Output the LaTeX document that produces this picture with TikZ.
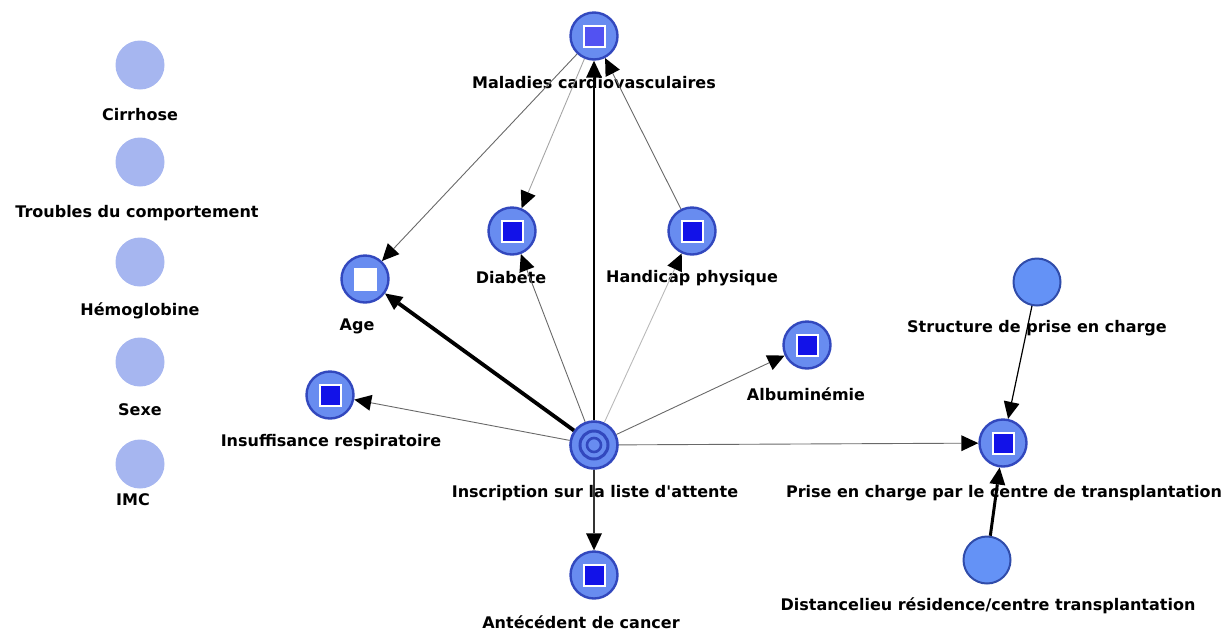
\documentclass[tikz,border=0pt]{standalone}
\usepackage{fontspec}
\setmainfont{DejaVu Sans}
\usetikzlibrary{arrows.meta}
\definecolor{ringfill}{RGB}{104,140,240}
\definecolor{ringdraw}{RGB}{50,72,190}
\definecolor{sqblue}{RGB}{18,18,232}
\definecolor{sqlight}{RGB}{82,82,242}
\definecolor{ghost}{RGB}{166,182,240}
\definecolor{plainfill}{RGB}{100,146,246}
\definecolor{plaindraw}{RGB}{48,76,170}
\definecolor{edgegray}{RGB}{105,105,105}
\definecolor{edgelight}{RGB}{185,185,185}
\tikzset{
  base/.style={circle, minimum size=47pt, inner sep=0pt},
  obs/.style={base, fill=ringfill, draw=ringdraw, line width=2.4pt,
    path picture={
      \fill[white] ([shift={(-11.5pt,-11.5pt)}]path picture bounding box.center) rectangle ++(23pt,23pt);
      \fill[#1] ([shift={(-9.5pt,-9.5pt)}]path picture bounding box.center) rectangle ++(19pt,19pt);
    }},
  obs/.default=sqblue,
  ghostnode/.style={base, minimum size=49pt, fill=ghost},
  plain/.style={base, fill=plainfill, draw=plaindraw, line width=2pt},
  target/.style={base, fill=ringfill, draw=ringdraw, line width=2.6pt,
    path picture={
      \draw[ringdraw, line width=3pt] (path picture bounding box.center) circle (14pt);
      \draw[ringdraw, line width=2.6pt] (path picture bounding box.center) circle (7pt);
    }},
  lab/.style={font=\bfseries\fontsize{16}{18}\selectfont, inner sep=0pt, text=black},
  arr/.style={-{Triangle[length=17pt,width=16pt,line width=0pt,color=black,fill=black]}},
  thin/.style={arr, draw=edgegray, line width=0.9pt},
  faint/.style={arr, draw=edgelight, line width=0.9pt},
}
\begin{document}
\begin{tikzpicture}[x=1pt,y=-1pt]
\useasboundingbox (0,0) rectangle (1229,633);
% ghost nodes
\node[ghostnode] (cir) at (140,65) {};
\node[lab] (cirl) at (140,115) {Cirrhose};
\node[ghostnode] (tro) at (140,162) {};
\node[lab] (trol) at (137,213) {Troubles du comportement};
\node[ghostnode] (hem) at (140,262) {};
\node[lab] (heml) at (140,311) {Hémoglobine};
\node[ghostnode] (sex) at (140,362) {};
\node[lab] (sexl) at (140,410) {Sexe};
\node[ghostnode] (imc) at (140,464) {};
\node[lab] (imcl) at (133,500) {IMC};
% main nodes
\node[obs=sqlight] (mal) at (594,36) {};
\node[lab] (mall) at (594,83) {Maladies cardiovasculaires};
\node[obs=white] (age) at (365,279) {};
\node[lab] (agel) at (357,326) {Age};
\node[obs] (dia) at (512,231) {};
\node[lab] (dial) at (511,278) {Diabete};
\node[obs] (han) at (692,231) {};
\node[lab] (hanl) at (692,278) {Handicap physique};
\node[obs] (alb) at (807,345) {};
\node[lab] (albl) at (806,394) {Albuminémie};
\node[obs] (ins) at (330,395) {};
\node[lab] (insl) at (331,442) {Insuffisance respiratoire};
\node[target] (insc) at (594,445) {};
\node[lab] (inscl) at (595,493) {Inscription sur la liste d\textquotesingle attente};
\node[obs] (ant) at (594,575) {};
\node[lab] (antl) at (581,622) {Antécédent de cancer};
\node[plain] (str) at (1037,282) {};
\node[lab] (strl) at (1037,328) {Structure de prise en charge};
\node[obs] (pri) at (1003,443) {};
\node[lab] (pril) at (1004,493) {Prise en charge par le centre de transplantation};
\node[plain] (dis) at (987,560) {};
\node[lab] (disl) at (988,606) {Distancelieu résidence/centre transplantation};
% edges
\draw[thin] (mal) -- (age);
\draw[thin, draw=edgegray!60] (mal) -- (dia);
\draw[thin] (han) -- (mal);
\draw[arr, line width=2pt] (insc) -- (mal);
\draw[arr, line width=3.8pt] (insc) -- (age);
\draw[thin] (insc) -- (dia);
\draw[faint] (insc) -- (han);
\draw[thin] (insc) -- (alb);
\draw[thin] (insc) -- (ins);
\draw[thin] (insc) -- (pri);
\draw[arr, line width=1.4pt, draw=black!80] (insc) -- (ant);
\draw[arr, line width=1.2pt] (str) -- (pri);
\draw[arr, line width=3pt] (dis) -- (pri);
\end{tikzpicture}
\end{document}
